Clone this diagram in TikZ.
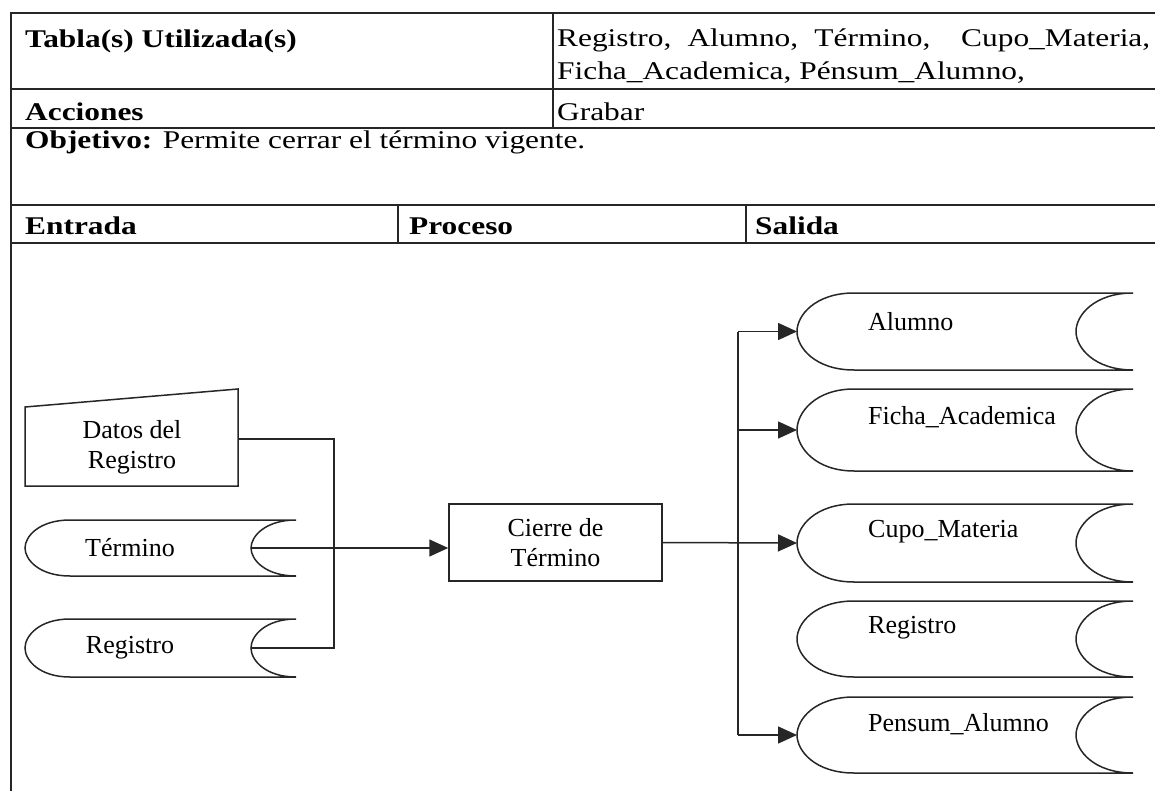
\documentclass[tikz,border=0pt]{standalone}
\usepackage{fontspec}
\setmainfont{Liberation Serif}
\newfontfamily\hdrfont{Liberation Serif}[FakeStretch=1.23]
\usetikzlibrary{arrows.meta,calc}
\newcommand\storeshape[6]{% #1 name, #2 L, #3 T, #4 R, #5 B, #6 arc width
  \pgfmathsetmacro\stC{(#3+#5)/2}
  \pgfmathsetmacro\stH{(#5-#3)/2*0.42}
  \pgfmathsetmacro\stK{#6*0.68}
  \draw[shapeline] (#2+#6,#3) -- (#4,#3)
    .. controls (#4-\stK,#3) and (#4-#6,\stC-\stH) .. (#4-#6,\stC)
    .. controls (#4-#6,\stC+\stH) and (#4-\stK,#5) .. (#4,#5)
    -- (#2+#6,#5)
    .. controls (#2+#6-\stK,#5) and (#2,\stC+\stH) .. (#2,\stC)
    .. controls (#2,\stC-\stH) and (#2+#6-\stK,#3) .. cycle;
  \coordinate (#1-in) at (#2,\stC);
  \coordinate (#1-out) at (#4-#6,\stC);
}
\tikzset{
  tline/.style={draw=black!85, line width=1.5pt},
  shapeline/.style={draw=black!85, line width=1.5pt},
  conn/.style={draw=black!85, line width=1.5pt},
  arr/.style={conn, -{Triangle[length=19pt,width=17pt]}},
  hdr/.style={anchor=base west, inner sep=0pt, font=\hdrfont\fontsize{25.5}{30}\selectfont},
  dtext/.style={inner sep=0pt, font=\fontsize{26}{30}\selectfont, align=center},
  procbox/.style={draw=black!85, line width=1.5pt, minimum width=213pt, minimum height=77pt,
     inner sep=0pt, font=\fontsize{26}{30}\selectfont, align=center},
}
\begin{document}
\begin{tikzpicture}[x=1pt,y=-1pt]
\useasboundingbox (0,0) rectangle (1155,791);
% ---- table frame ----
\draw[tline, line width=2.6pt] (11,13) -- (1155,13);
\draw[tline] (11,12) -- (11,791);
\draw[tline] (11,89) -- (1155,89);
\draw[tline] (11,128) -- (1155,128);
\draw[tline] (11,205) -- (1155,205);
\draw[tline] (11,243) -- (1155,243);
\draw[tline] (553,13) -- (553,128);
\draw[tline] (398,205) -- (398,243);
\draw[tline] (746,205) -- (746,243);
% ---- table texts ----
\node[hdr] (tabla) at (25,48) {\textbf{Tabla(s) Utilizada(s)}};
\node[hdr] (tabl1) at (557,47) {\makebox[593pt][s]{Registro, Alumno, Término, \ Cupo\_Materia,}};
\node[hdr] (tabl2) at (557,80) {Ficha\_Academica, Pénsum\_Alumno,};
\node[hdr] (acc) at (25,121) {\textbf{Acciones}};
\node[hdr] (grab) at (557,121) {Grabar};
\node[hdr] (obj) at (25,149) {\textbf{Objetivo:} Permite cerrar el término vigente.};
\node[hdr] (ent) at (25,235) {\textbf{Entrada}};
\node[hdr] (pro) at (409,235) {\textbf{Proceso}};
\node[hdr] (sal) at (755,235) {\textbf{Salida}};
% ---- inputs ----
\draw[shapeline] (25,407) -- (238,389) -- (238,486) -- (25,486) -- cycle;
\node[dtext] (datos) at (132,447) {Datos del\\Registro};
\coordinate (datosR) at (238,439);
\storeshape{termS}{25}{520}{296}{576}{45}
\node[dtext] (termino) at (130,548) {Término};
\storeshape{regS}{25}{619}{296}{677}{45}
\node[dtext] (registroA) at (130,648) {Registro};
% ---- process ----
\node[procbox] (cierre) at (555.5,542.5) {Cierre de\\Término};
% ---- outputs ----
\storeshape{alumno}{797}{293}{1133}{370}{57}
\node[dtext, anchor=west] (alumnoT) at (868,322) {Alumno};
\storeshape{ficha}{797}{389}{1133}{471}{57}
\node[dtext, anchor=west] (fichaT) at (868,417) {Ficha\_Academica};
\storeshape{cupo}{797}{504}{1133}{582}{57}
\node[dtext, anchor=west] (cupoT) at (868,532) {Cupo\_Materia};
\storeshape{regB}{797}{601}{1133}{677}{57}
\node[dtext, anchor=west] (registroB) at (868,628) {Registro};
\storeshape{pensum}{797}{697}{1133}{773}{57}
\node[dtext, anchor=west] (pensumT) at (868,724) {Pensum\_Alumno};
% ---- connectors ----
\coordinate (jin1) at (334,439);
\coordinate (jin2) at (334,648);
\draw[conn] (datosR) -- (jin1) -- (jin2) -- (regS-out);
\draw[arr] (termS-out) -- (termS-out -| cierre.west);
\coordinate (busA) at (738,331.5);
\coordinate (busP) at (738,735);
\draw[conn] (busA) -- (busP);
\draw[arr] (busA) -- (alumno-in);
\draw[arr] (busA |- ficha-in) -- (ficha-in);
\draw[arr] (cierre.east) -- (cupo-in);
\draw[arr] (busP) -- (pensum-in);
\end{tikzpicture}
\end{document}
